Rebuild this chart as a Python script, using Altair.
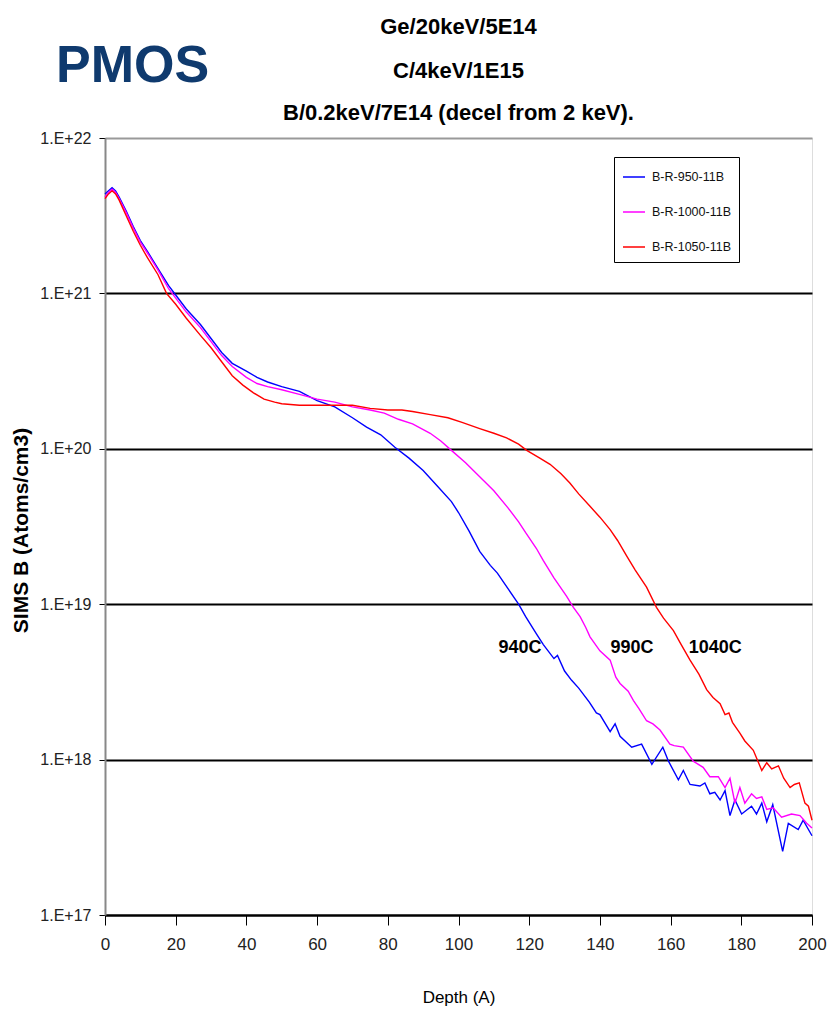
import altair as alt
import pandas as pd

# ---- data (log10 of SIMS B concentration) ----
d950 = [0, 1, 2, 3, 4, 6, 8, 10, 12, 15, 18, 20, 23, 27, 30, 33, 36, 40, 43, 46, 50, 55, 60, 65, 70,
        74, 78, 82, 86, 90, 94, 98, 100, 103, 106, 109, 111, 114, 117, 119, 122, 124, 127, 128, 130,
        132, 134, 137, 139, 140, 142.9, 144.3, 145.7, 149, 151.8, 154.7, 157.8, 159.4, 162.2, 163.6,
        165.5, 168.3, 169.7, 171.1, 172.5, 174, 175.4, 176.8, 178.2, 180.1, 182.9, 184.3, 185.8,
        187.2, 188.9, 191.7, 193.3, 196.1, 197.5, 200]
c950 = [21.64, 21.66, 21.68, 21.66, 21.62, 21.53, 21.43, 21.34, 21.27, 21.16, 21.05, 20.99, 20.90,
        20.80, 20.71, 20.62, 20.55, 20.50, 20.46, 20.43, 20.40, 20.37, 20.31, 20.27, 20.20, 20.14,
        20.09, 20.01, 19.94, 19.86, 19.76, 19.66, 19.59, 19.47, 19.34, 19.25, 19.20, 19.10, 19.00,
        18.92, 18.81, 18.74, 18.65, 18.67, 18.57, 18.51, 18.46, 18.37, 18.30, 18.29, 18.18, 18.23,
        18.15, 18.08, 18.10, 17.97, 18.08, 17.99, 17.87, 17.93, 17.84, 17.83, 17.85, 17.78, 17.79,
        17.74, 17.80, 17.64, 17.74, 17.65, 17.70, 17.65, 17.72, 17.60, 17.71, 17.41, 17.59, 17.55,
        17.61, 17.51]

d1000 = [0, 1, 2, 3, 4, 6, 8, 10, 12, 15, 18, 20, 23, 27, 30, 33, 36, 40, 43, 46, 50, 55, 60, 65,
         70, 75, 79, 83, 87, 92, 95, 98, 102, 106, 110, 114, 117, 119, 122, 124, 127, 130.6, 132.5,
         134.4, 136, 137.2, 140, 142.9, 144.5, 145.7, 148, 149.5, 151, 153.2, 155, 157, 159.8, 161,
         163.6, 166.4, 169.2, 171.1, 173.5, 175.4, 176.8, 178.2, 179.6, 181, 182.9, 184.3, 185.8,
         187.2, 189, 191.4, 194.2, 196.6, 198.5, 200]
c1000 = [21.62, 21.65, 21.67, 21.65, 21.61, 21.52, 21.42, 21.33, 21.26, 21.15, 21.03, 20.97, 20.88,
         20.78, 20.69, 20.60, 20.53, 20.46, 20.42, 20.40, 20.38, 20.35, 20.32, 20.30, 20.27, 20.25,
         20.23, 20.19, 20.16, 20.10, 20.05, 19.99, 19.91, 19.82, 19.73, 19.62, 19.53, 19.46, 19.36,
         19.28, 19.17, 19.05, 18.98, 18.92, 18.85, 18.79, 18.70, 18.64, 18.53, 18.49, 18.44, 18.38,
         18.33, 18.25, 18.23, 18.19, 18.10, 18.09, 18.08, 17.99, 17.95, 17.89, 17.89, 17.82, 17.88,
         17.72, 17.82, 17.72, 17.78, 17.75, 17.76, 17.68, 17.69, 17.63, 17.65, 17.64, 17.59, 17.56]

d1050 = [0, 1, 2, 3, 4, 6, 8, 10, 12, 15, 17.4, 20, 23, 27, 30, 33, 36, 39, 42, 45, 48, 50, 55, 60,
         65, 70, 75, 80, 84, 87, 92, 97, 101, 106, 110, 113.6, 117, 119.3, 123, 125.9, 129, 131.5,
         134, 137.2, 140, 142.9, 145, 147.6, 150, 153.2, 156, 158, 160.8, 163, 165.5, 168, 170.2,
         172, 174, 175.4, 176.5, 177.5, 179.6, 181, 183.4, 185.8, 187.2, 188.6, 190.5, 192, 193.8,
         195, 196.4, 198, 199, 200]
c1050 = [21.61, 21.64, 21.66, 21.64, 21.60, 21.50, 21.40, 21.31, 21.23, 21.12, 21.00, 20.93, 20.84,
         20.73, 20.65, 20.56, 20.47, 20.41, 20.36, 20.32, 20.30, 20.29, 20.28, 20.28, 20.28, 20.28,
         20.26, 20.25, 20.25, 20.24, 20.22, 20.20, 20.17, 20.13, 20.10, 20.07, 20.03, 19.99, 19.94,
         19.90, 19.84, 19.78, 19.71, 19.63, 19.56, 19.48, 19.41, 19.31, 19.22, 19.11, 18.98, 18.91,
         18.83, 18.74, 18.64, 18.55, 18.45, 18.40, 18.36, 18.29, 18.30, 18.24, 18.17, 18.12, 18.06,
         17.93, 17.98, 17.94, 17.96, 17.88, 17.82, 17.84, 17.85, 17.72, 17.70, 17.61]

series_names = ["B-R-950-11B", "B-R-1000-11B", "B-R-1050-11B"]
series_colors = ["#0000FF", "#FF00FF", "#FF0000"]

ann_text = ["940C", "990C", "1040C"]
ann_depth = [117.4, 149.1, 172.6]
ann_logc = [18.72, 18.72, 18.72]

title_lines = ["Ge/20keV/5E14", "C/4keV/1E15", "B/0.2keV/7E14 (decel from 2 keV)."]
badge_text = ["PMOS"]

y_ticks = [1e17, 1e18, 1e19, 1e20, 1e21, 1e22]
x_ticks = list(range(0, 201, 20))

rows = []
for name, ds, cs in zip(series_names, [d950, d1000, d1050], [c950, c1000, c1050]):
    for d, c in zip(ds, cs):
        rows.append({"series": name, "depth": d, "conc": 10 ** c})
df = pd.DataFrame(rows)
ann = pd.DataFrame({"text": ann_text, "depth": ann_depth, "conc": [10 ** v for v in ann_logc]})

FONT = "Liberation Sans, Arial, Helvetica, sans-serif"
W, H = 707, 777

xscale = alt.Scale(domain=[0, 200], nice=False)
yscale = alt.Scale(type="log", domain=[1e17, 1e22], nice=False)

lines = alt.Chart(df).mark_line(strokeWidth=1.4).encode(
    x=alt.X("depth:Q", scale=xscale,
            axis=alt.Axis(title="Depth (A)", values=x_ticks, format="d", grid=False,
                          domainColor="black", domainWidth=2, tickColor="black", tickSize=10,
                          tickWidth=1, labelFontSize=17, labelFont=FONT, labelColor="#222",
                          labelPadding=11, titleFont=FONT, titleFontSize=17,
                          titleFontWeight="normal", titleColor="black", titlePadding=37,
                          labelFlush=False)),
    y=alt.Y("conc:Q", scale=yscale,
            axis=alt.Axis(title="SIMS B (Atoms/cm3)", values=y_ticks,
                          labelExpr="'1.E+' + round(log(datum.value)/LN10)",
                          grid=True,
                          gridColor={"condition": {"test": "datum.value >= 1e22", "value": "#999999"},
                                     "value": "black"},
                          gridWidth=2, gridOpacity=1,
                          domainColor="#888888", domainWidth=2, tickColor="black", tickSize=6,
                          labelFontSize=16, labelFont=FONT, labelColor="#222", labelPadding=8,
                          titleFont=FONT, titleFontSize=21, titleColor="black",
                          titleFontWeight="bold", titleAngle=-90, titleX=-84, titleY=392,
                          titleAlign="center", titleBaseline="middle")),
    color=alt.Color("series:N",
                    scale=alt.Scale(domain=series_names, range=series_colors),
                    legend=alt.Legend(title=None, orient="none", legendX=509, legendY=19,
                                      symbolType="stroke", symbolSize=484, symbolStrokeWidth=1.5,
                                      labelFont=FONT, labelFontSize=12.5, labelColor="#111",
                                      rowPadding=16, padding=8, strokeColor="black",
                                      fillColor="white", labelOffset=6)),
)

labels = alt.Chart(ann).mark_text(font=FONT, fontSize=18, fontWeight="bold", color="black").encode(
    x=alt.X("depth:Q", scale=xscale),
    y=alt.Y("conc:Q", scale=yscale),
    text="text:N",
)

title_df = pd.DataFrame({"t": title_lines, "yy": [-104, -60, -18]})
title = alt.Chart(title_df).mark_text(
    font=FONT, fontSize=22, fontWeight="bold", color="black", align="center", baseline="alphabetic"
).encode(x=alt.value(W / 2), y=alt.Y("yy:Q", scale=None), text="t:N")

pmos = alt.Chart(pd.DataFrame({"t": badge_text})).mark_text(
    font=FONT, fontSize=52, fontWeight="bold", color="#0F3A6E",
    align="left", baseline="alphabetic"
).encode(x=alt.value(-49), y=alt.value(-56), text="t:N")

chart = alt.layer(lines, labels, title, pmos).properties(
    width=W, height=H,
    padding={"left": 105, "top": 138, "right": 18, "bottom": 102},
    autosize=alt.AutoSizeParams(type="none"),
).configure_view(stroke="#999999", strokeWidth=2).configure(background="white")

chart.save("out.html", embed_options={"renderer": "svg", "actions": False})
